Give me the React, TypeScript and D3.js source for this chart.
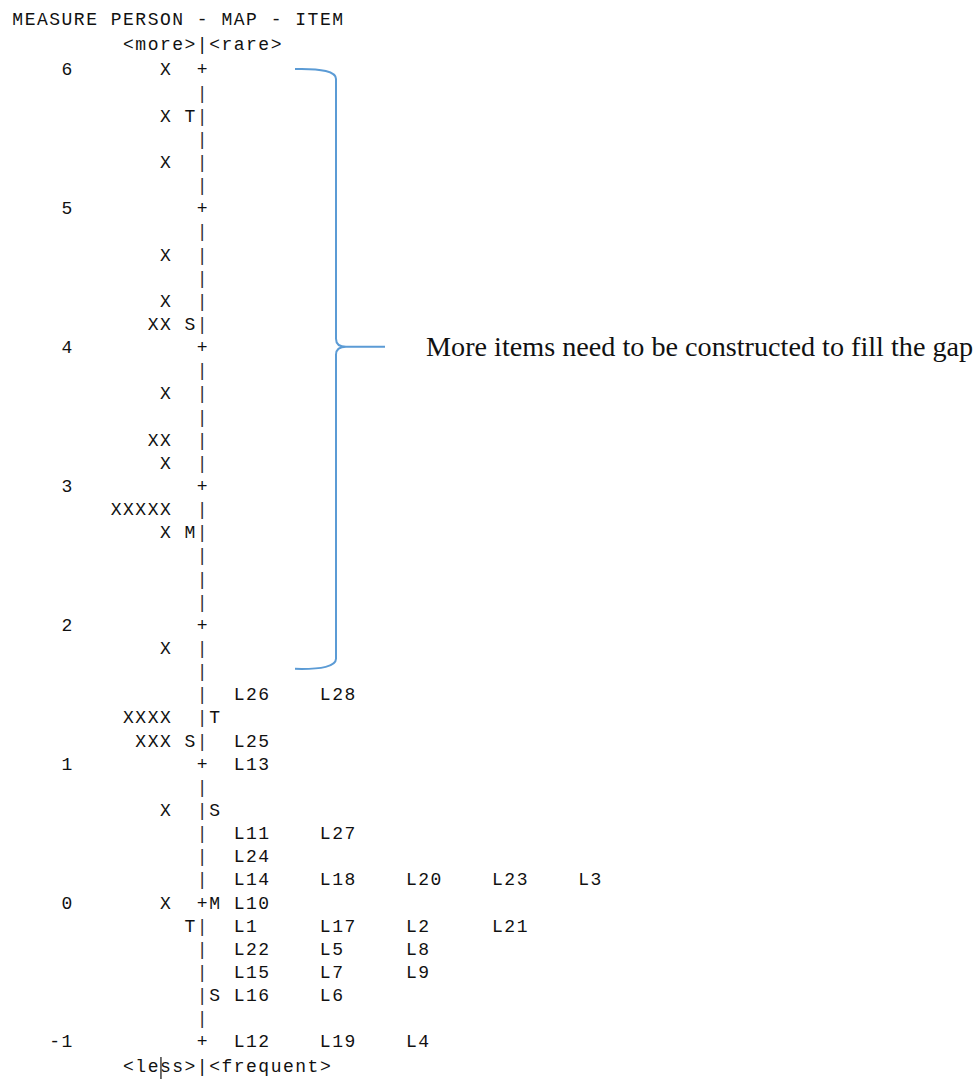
import * as d3 from "d3";

// person-item (Wright) map, rows are sixths of a logit, row 0 = measure 6
const measureTicks = [6, 5, 4, 3, 2, 1, 0, -1];
const rowsPerUnit = 6;

const personRows = [0, 2, 4, 8, 10, 11, 14, 16, 17, 19, 20, 25, 28, 29, 32, 36];
const personCounts = [1, 1, 1, 1, 1, 2, 1, 2, 1, 5, 1, 1, 4, 3, 1, 1];

const personMarkRows = [2, 11, 20, 29, 37];
const personMarks = ["T", "S", "M", "S", "T"];

const itemMarkRows = [28, 32, 36, 40];
const itemMarks = ["T", "S", "M", "S"];

const itemRows = [27, 29, 30, 33, 34, 35, 36, 37, 38, 39, 40, 42];
const itemLabels = [
  ["L26", "L28"],
  ["L25"],
  ["L13"],
  ["L11", "L27"],
  ["L24"],
  ["L14", "L18", "L20", "L23", "L3"],
  ["L10"],
  ["L1", "L17", "L2", "L21"],
  ["L22", "L5", "L8"],
  ["L15", "L7", "L9"],
  ["L16", "L6"],
  ["L12", "L19", "L4"],
];

const title = "MEASURE PERSON - MAP - ITEM";
const topLabel = "<more>|<rare>";
const bottomLabel = "<less>|<frequent>";
const note = "More items need to be constructed to fill the gap";
// brace covers the empty item region, in measure units
const braceFrom = 6;
const braceTo = 1.68;
const braceTip = 4;

const width = 976;
const height = 1080;
const fontSize = 18;
const adv = 12.3;
const axisCol = 15;

export default function App() {
  const nRows = (measureTicks[0] - measureTicks[measureTicks.length - 1]) * rowsPerUnit;
  const rowY = d3.scaleLinear().domain([0, nRows]).range([69, 1041]);
  const measureY = d3
    .scaleLinear()
    .domain([measureTicks[0], measureTicks[measureTicks.length - 1]])
    .range([69, 1041]);
  const colX = d3.scaleLinear().domain([0, 1]).range([12.35, 12.35 + adv]);

  const mono = {
    fontFamily: "'Liberation Mono', 'DejaVu Sans Mono', monospace",
    fontSize,
    letterSpacing: adv - fontSize * 0.6,
    fill: "#111",
  };

  const cell = (key: string, col: number, row: number, s: string, fill = mono.fill) => (
    <text key={key} x={colX(col)} y={rowY(row)} dy="0.36em" {...mono} fill={fill}>
      {s}
    </text>
  );

  const axisRows = d3.range(0, nRows + 1);

  // brace path
  const bx0 = 295;
  const bxs = 336;
  const bxt = 346;
  const bxe = 385;
  const yt = measureY(braceFrom);
  const yb = measureY(braceTo);
  const ym = measureY(braceTip);
  const p = d3.path();
  p.moveTo(bx0, yt);
  p.quadraticCurveTo(bxs, yt - 1, bxs, yt + 10);
  p.lineTo(bxs, ym - 8);
  p.quadraticCurveTo(bxs, ym, bxt, ym);
  p.lineTo(bxe, ym);
  p.moveTo(bxt, ym);
  p.quadraticCurveTo(bxs, ym, bxs, ym + 8);
  p.lineTo(bxs, yb - 10);
  p.quadraticCurveTo(bxs, yb + 1, bx0, yb);

  return (
    <svg
      width={width}
      height={height}
      style={{ position: "absolute", left: 0, top: 0, background: "#fff" }}
    >
      {cell("title", 0, -2.2, title)}
      {cell("top", axisCol - 6, -1.1, topLabel)}
      {cell("bottom", axisCol - 6, nRows + 1.08, bottomLabel)}
      {/* text cursor left in the source picture */}
      <line x1={colX(12) + 1} x2={colX(12) + 1} y1={1057} y2={1079} stroke="#222" strokeWidth={1.3} />

      {measureTicks.map((m, i) => {
        const s = String(m);
        return cell("m" + i, 5 - s.length, (measureTicks[0] - m) * rowsPerUnit, s);
      })}

      {axisRows.map((r) =>
        r % rowsPerUnit === 0
          ? cell("a" + r, axisCol, r, "+")
          : cell("a" + r, axisCol, r, "|", "#333")
      )}

      {personRows.map((r, i) =>
        cell("p" + i, axisCol - 2 - personCounts[i], r, "X".repeat(personCounts[i]))
      )}
      {personMarkRows.map((r, i) => cell("pm" + i, axisCol - 1, r, personMarks[i]))}
      {itemMarkRows.map((r, i) => cell("im" + i, axisCol + 1, r, itemMarks[i]))}

      {itemRows.map((r, i) =>
        itemLabels[i].map((lab, j) => cell(`i${i}-${j}`, axisCol + 3 + j * 7, r, lab))
      )}

      <path d={p.toString()} fill="none" stroke="#5b9bd5" strokeWidth={2} />
      <text
        x={426}
        y={ym}
        dy="0.33em"
        fontFamily="'Liberation Serif', 'Times New Roman', serif"
        fontSize={28.2}
        fill="#111"
      >
        {note}
      </text>
    </svg>
  );
}
